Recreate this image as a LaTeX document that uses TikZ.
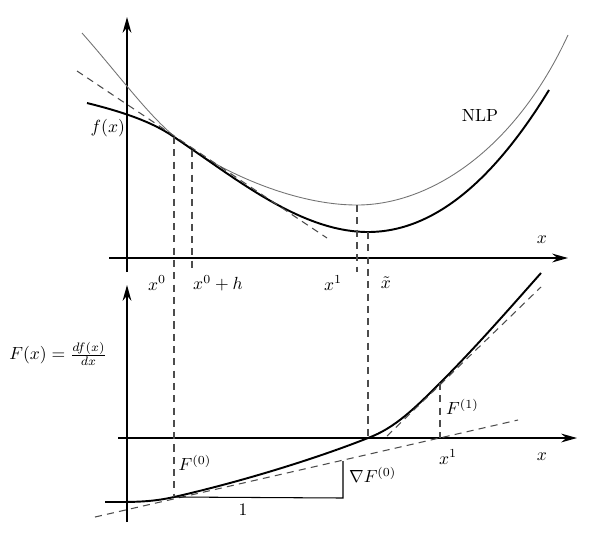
\documentclass[tikz,border=0pt]{standalone}
\usetikzlibrary{arrows.meta}
\begin{document}
\begin{tikzpicture}[
  x=0.02cm, y=-0.02cm,
  axis/.style={line width=0.8pt, -{Stealth[length=9pt,width=5pt]}},
  curve/.style={line width=1.1pt},
  model/.style={line width=0.5pt, black!55},
  guide/.style={line width=0.6pt, black!70, dash pattern=on 4pt off 3pt},
  lbl/.style={inner sep=1pt}
]
\useasboundingbox (0,0) rectangle (597,538);

% Achsen oben und unten
\draw[axis] (127,272) -- (127,17);
\draw[axis] (109,258) -- (568,258);
\draw[axis] (127,522) -- (127,285);
\draw[axis] (118,438) -- (577,438);

% Stuetzpunkte
\coordinate (p0) at (174,137);
\coordinate (ph) at (192,150);
\coordinate (p1) at (357,205);
\coordinate (pt) at (368,232);
\coordinate (q0) at (174,497);
\coordinate (qt) at (368,438);
\coordinate (q1) at (440,383);
\coordinate (r1) at (440,438);
\coordinate (s1) at (343,498);
\coordinate (s2) at (343,461);

% Kurven
\draw[model] (82,33) .. controls (120,76) and (150,118) .. (180,141)
  .. controls (215,168) and (290,205) .. (p1)
  .. controls (430,205) and (515,150) .. (568,35);
\draw[curve] (87,103) .. controls (115,110) and (150,120) .. (p0)
  .. controls (234,177) and (300,232) .. (pt)
  .. controls (440,232) and (500,170) .. (549,90);
\draw[curve] (105,502) .. controls (130,502) and (150,502.5) .. (q0)
  .. controls (240,482) and (315,459) .. (qt)
  .. controls (395,428) and (415,408) .. (q1)
  .. controls (475,348) and (510,308) .. (541,273);

% Tangenten
\draw[guide] (77,71) -- (327,238);
\draw[guide] (95,517) -- (518,420);
\draw[guide] (387,436) -- (541,287);

% Hilfslinien
\draw[guide] (p0) -- (q0);
\draw[guide] (ph) -- (192,272);
\draw[guide] (p1) -- (357,272);
\draw[guide] (pt) -- (qt);
\draw[guide] (q1) -- (r1);
\draw[line width=0.6pt] (q0) -- (s1) -- (s2);

% Beschriftungen
\node[lbl, anchor=east] (fx) at (127,128) {$f(x)$};
\node[lbl] (nlp) at (480,115) {NLP};
\node[lbl] (xa) at (542,240) {$x$};
\node[lbl] (x0) at (157,283) {$x^0$};
\node[lbl] (x0h) at (218,283) {$x^0+h$};
\node[lbl] (x1a) at (333,283) {$x^1$};
\node[lbl] (xt) at (386,283) {$\tilde{x}$};
\node[lbl] (Fx) at (58,354) {$F(x)=\frac{df(x)}{dx}$};
\node[lbl] (F0) at (195,463) {$F^{(0)}$};
\node[lbl, anchor=west] (dF0) at (347,475) {$\nabla F^{(0)}$};
\node[lbl] (one) at (243,510) {$1$};
\node[lbl, anchor=west] (F1) at (444,407) {$F^{(1)}$};
\node[lbl] (x1b) at (448,457) {$x^1$};
\node[lbl] (xb) at (542,457) {$x$};
\end{tikzpicture}
\end{document}
